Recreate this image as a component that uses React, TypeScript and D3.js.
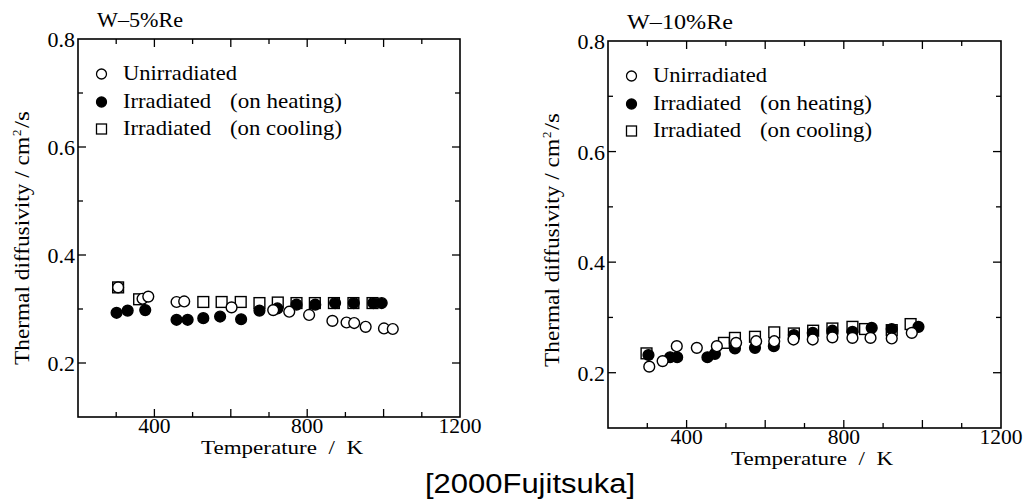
import React from "react";
import * as d3 from "d3";

// ---------- data ----------
const panelTitles = ["W\u20135%Re", "W\u201310%Re"];
const xTickLabels = [400, 800, 1200];
const yTickLabels = [0.2, 0.4, 0.6, 0.8];
const legendLabels = ["Unirradiated", "Irradiated", "Irradiated"];
const legendNotes = ["", "(on heating)", "(on cooling)"];

// W-5%Re  [temperature K, thermal diffusivity cm2/s]
const w5Unirradiated: [number, number][] = [
  [305, 0.34], [369, 0.319], [384, 0.323], [458, 0.313], [478, 0.314],
  [602, 0.303], [711, 0.298], [753, 0.295], [805, 0.289], [866, 0.278],
  [903, 0.275], [923, 0.274], [953, 0.267], [1001, 0.264], [1024, 0.263],
];
const w5Heating: [number, number][] = [
  [301, 0.293], [330, 0.297], [376, 0.298], [458, 0.28], [487, 0.28],
  [528, 0.283], [572, 0.286], [627, 0.281], [675, 0.297], [722, 0.301],
  [772, 0.308], [821, 0.308], [873, 0.311], [922, 0.311], [973, 0.311], [995, 0.311],
];
const w5Cooling: [number, number][] = [
  [305, 0.34], [360, 0.318], [528, 0.313], [576, 0.313], [626, 0.313],
  [675, 0.311], [723, 0.312], [772, 0.311], [820, 0.311], [870, 0.311],
  [921, 0.311], [971, 0.311],
];

// W-10%Re
const w10Unirradiated: [number, number][] = [
  [305, 0.211], [339, 0.221], [375, 0.248], [426, 0.245], [477, 0.248],
  [526, 0.254], [577, 0.257], [623, 0.257], [672, 0.26], [721, 0.26],
  [771, 0.264], [822, 0.263], [868, 0.263], [922, 0.262], [973, 0.272],
];
const w10Heating: [number, number][] = [
  [303, 0.232], [358, 0.228], [376, 0.228], [453, 0.228], [472, 0.234],
  [523, 0.244], [574, 0.245], [622, 0.248], [673, 0.268], [721, 0.272],
  [771, 0.276], [822, 0.274], [871, 0.281], [922, 0.279], [990, 0.283],
];
const w10Cooling: [number, number][] = [
  [298, 0.235], [495, 0.254], [523, 0.263], [574, 0.265], [623, 0.273],
  [673, 0.271], [722, 0.276], [771, 0.28], [822, 0.283], [854, 0.279],
  [922, 0.277], [970, 0.288],
];

type Pt = [number, number];
interface PanelProps {
  title: string;
  titleW: number;
  left: number;
  right: number;
  top: number;
  bottom: number;
  unirr: Pt[];
  heat: Pt[];
  cool: Pt[];
  yTitleX: number;
  yTitleStart: number;
  xTitleY: number;
  xTickY: number;
}

const FONT = "'Liberation Serif', 'Times New Roman', serif";
const NB = "\u00a0";

function Panel(p: PanelProps) {
  const x = d3.scaleLinear().domain([200, 1200]).range([p.left, p.right]);
  const y = d3.scaleLinear().domain([0.1, 0.8]).range([p.bottom, p.top]);
  const xTicks = d3.range(300, 1200, 100);
  const yTicks = d3.range(2, 8).map((v) => +(v / 10).toFixed(1));
  const isMajorX = (t: number) => t % 200 === 0;
  const isMajorY = (t: number) => Math.round(t * 10) % 2 === 0;
  const r = 5.4;
  const s = 10.8;
  const lx = p.left + 23.5;
  const tx = p.left + 45;
  const noteX = p.left + 152;
  const rowY = [p.top + 41, p.top + 69, p.top + 96];
  const labelW = [114, 88, 88];
  const ys = p.yTitleStart;
  return (
    <g>
      <text x={p.left + 19} y={p.top - 12} fontFamily={FONT} fontSize={20} textLength={p.titleW} lengthAdjust="spacingAndGlyphs">{p.title}</text>
      <rect x={p.left} y={p.top} width={p.right - p.left} height={p.bottom - p.top} fill="none" stroke="#000" strokeWidth={1.6} />
      {xTicks.map((t) => {
        const len = isMajorX(t) ? 8 : 5;
        return (
          <g key={"xt" + t}>
            <line x1={x(t)} x2={x(t)} y1={p.bottom} y2={p.bottom - len} stroke="#000" strokeWidth={1.3} />
            <line x1={x(t)} x2={x(t)} y1={p.top} y2={p.top + len} stroke="#000" strokeWidth={1.3} />
          </g>
        );
      })}
      {yTicks.map((t) => {
        const len = isMajorY(t) ? 8 : 5;
        return (
          <g key={"yt" + t}>
            <line x1={p.left} x2={p.left + len} y1={y(t)} y2={y(t)} stroke="#000" strokeWidth={1.3} />
            <line x1={p.right} x2={p.right - len} y1={y(t)} y2={y(t)} stroke="#000" strokeWidth={1.3} />
          </g>
        );
      })}
      {xTickLabels.map((t) => (
        <text key={"xl" + t} x={x(t)} y={p.xTickY} textAnchor="middle" fontFamily={FONT} fontSize={21.5}>{t}</text>
      ))}
      {yTickLabels.map((t) => (
        <text key={"yl" + t} x={p.left - 3} y={y(t) + 8} textAnchor="end" fontFamily={FONT} fontSize={22}>{t.toFixed(1)}</text>
      ))}
      <text x={p.left + 123} y={p.xTitleY} fontFamily={FONT} fontSize={18} textLength={162} lengthAdjust="spacingAndGlyphs">
        {"Temperature" + NB + NB + "/" + NB + NB + "K"}
      </text>
      <g transform={`translate(${p.yTitleX},0) rotate(-90)`}>
        <text x={-ys} y={0} fontFamily={FONT} fontSize={20} textLength={228} lengthAdjust="spacingAndGlyphs">
          {"Thermal diffusivity" + NB + "/" + NB + "cm"}
        </text>
        <text x={-ys + 229} y={-8} fontFamily={FONT} fontSize={13}>2</text>
        <text x={-ys + 237} y={0} fontFamily={FONT} fontSize={20} textLength={17} lengthAdjust="spacingAndGlyphs">/s</text>
      </g>
      {/* legend */}
      <circle cx={lx} cy={rowY[0] - 6} r={5} fill="#fff" stroke="#000" strokeWidth={1.3} />
      <circle cx={lx} cy={rowY[1] - 6} r={5} fill="#000" stroke="#000" strokeWidth={1.3} />
      <rect x={lx - 5} y={rowY[2] - 11} width={10} height={10} fill="#fff" stroke="#000" strokeWidth={1.3} />
      {legendLabels.map((l, i) => (
        <g key={"lg" + i}>
          <text x={tx} y={rowY[i]} fontFamily={FONT} fontSize={22} textLength={labelW[i]} lengthAdjust="spacingAndGlyphs">{l}</text>
          {legendNotes[i] && <text x={noteX} y={rowY[i]} fontFamily={FONT} fontSize={22} textLength={112} lengthAdjust="spacingAndGlyphs">{legendNotes[i]}</text>}
        </g>
      ))}
      {/* data */}
      {p.cool.map((d, i) => (
        <rect key={"c" + i} x={x(d[0]) - s / 2} y={y(d[1]) - s / 2} width={s} height={s} fill="#fff" stroke="#000" strokeWidth={1.4} />
      ))}
      {p.heat.map((d, i) => (
        <circle key={"h" + i} cx={x(d[0])} cy={y(d[1])} r={r} fill="#000" stroke="#000" strokeWidth={1.4} />
      ))}
      {p.unirr.map((d, i) => (
        <circle key={"u" + i} cx={x(d[0])} cy={y(d[1])} r={r} fill="#fff" stroke="#000" strokeWidth={1.4} />
      ))}
    </g>
  );
}

export default function App() {
  return (
    <svg width={1026} height={502} style={{ position: "absolute", left: 0, top: 0, background: "#fff" }}>
      <rect width={1026} height={502} fill="#fff" />
      <Panel title={panelTitles[0]} titleW={86} left={78} right={460} top={39} bottom={417}
        unirr={w5Unirradiated} heat={w5Heating} cool={w5Cooling}
        yTitleX={29} yTitleStart={365} xTitleY={454} xTickY={433} />
      <Panel title={panelTitles[1]} titleW={106} left={608} right={1001} top={41} bottom={428}
        unirr={w10Unirradiated} heat={w10Heating} cool={w10Cooling}
        yTitleX={559} yTitleStart={367} xTitleY={465} xTickY={444} />
      <text x={530} y={493} textAnchor="middle" fontFamily="'Liberation Sans', Arial, sans-serif" fontSize={27}
        textLength={210} lengthAdjust="spacingAndGlyphs">[2000Fujitsuka]</text>
    </svg>
  );
}
